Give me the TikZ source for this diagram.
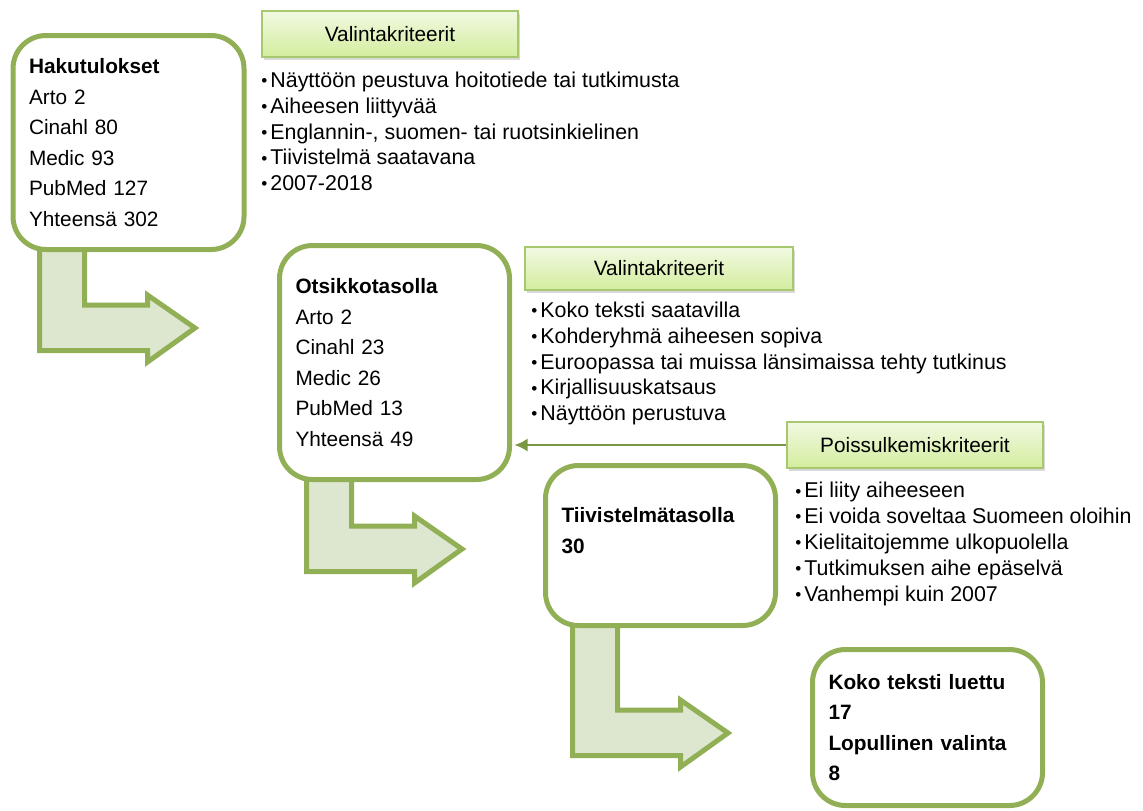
\documentclass[tikz,border=0pt]{standalone}
\usepackage{fontspec}
\setmainfont{Liberation Sans}
\usetikzlibrary{arrows.meta,shadows,positioning}

\definecolor{boxgreen}{RGB}{145,175,85}
\definecolor{arrowfill}{RGB}{221,231,208}
\definecolor{hdtop}{RGB}{241,249,226}
\definecolor{hdbot}{RGB}{211,237,158}
\definecolor{hdline}{RGB}{168,200,112}
\definecolor{connline}{RGB}{122,152,66}

\newcommand{\itm}[1]{\makebox[4.5pt][l]{\raisebox{0.4pt}{\fontsize{8.6}{8.6}\selectfont•}}#1}

\tikzset{
  every node/.style={font=\fontsize{10.4}{15.25}\selectfont},
  stage/.style={draw=boxgreen, line width=2.5pt, fill=white, rounded corners=16.5pt,
    minimum width=115pt, text width=99pt, align=left, inner sep=0pt},
  crit/.style={draw=hdline, line width=0.8pt, top color=hdtop, bottom color=hdbot, inner sep=0pt,
    drop shadow={shadow xshift=1pt, shadow yshift=-1.5pt, opacity=0.3}},
  critlist/.style={anchor=west, align=left, inner sep=0pt, font=\fontsize{10.7}{12.9}\selectfont},
  bentarrow/.pic={
    \draw[draw=boxgreen, fill=arrowfill, line width=2.5pt, line join=miter]
      (0,-100) -- (0,45.5) -- (108,45.5) -- (108,57) -- (155.5,23)
      -- (108,-10) -- (108,0) -- (45,0) -- (45,-100) -- cycle;
  }
}

\begin{document}
\begin{tikzpicture}[x=0.5pt, y=-0.5pt, >={Latex[length=6.5pt,width=6.5pt]}]
  \useasboundingbox (0,0) rectangle (1143,810);

  % bent arrows between the stages
  \pic at (39.5,305)  {bentarrow};
  \pic at (306.5,526) {bentarrow};
  \pic at (572.5,710) {bentarrow};

  \node[stage, minimum width=115.5pt, text width=99.5pt, minimum height=107pt] (haku) at (128.5,142.5)
    {\textbf{Hakutulokset}\\Arto 2\\Cinahl 80\\Medic 93\\PubMed 127\\Yhteensä 302};
  \node[stage, minimum height=117pt] (otsikko) at (394.5,362.5)
    {\textbf{Otsikkotasolla}\\Arto 2\\Cinahl 23\\Medic 26\\PubMed 13\\Yhteensä 49};
  \node[stage, minimum height=80pt] (tiiv) at (660.5,545.5)
    {\bfseries Tiivistelmätasolla\\30\\\mbox{}};
  \node[stage, minimum height=78pt] (koko) at (927.5,727.5)
    {\bfseries Koko teksti luettu\\17\\Lopullinen valinta\\8};

  \node[crit, minimum width=128pt, minimum height=23pt]   (val1) at (390,34)    {Valintakriteerit};
  \node[crit, minimum width=134pt, minimum height=21.5pt] (val2) at (659,268.5) {Valintakriteerit};
  \node[crit, minimum width=128pt, minimum height=23pt]   (pois) at (915,445)   {Poissulkemiskriteerit};

  \node[critlist] (list1) at (261,131.5)
    {\itm{Näyttöön peustuva hoitotiede tai tutkimusta}\\\itm{Aiheesen liittyvää}\\
     \itm{Englannin-, suomen- tai ruotsinkielinen}\\\itm{Tiivistelmä saatavana}\\\itm{2007-2018}};
  \node[critlist] (list2) at (531,363.5)
    {\itm{Koko teksti saatavilla}\\\itm{Kohderyhmä aiheesen sopiva}\\
     \itm{Euroopassa tai muissa länsimaissa tehty tutkinus}\\\itm{Kirjallisuuskatsaus}\\\itm{Näyttöön perustuva}};
  \node[critlist] (list3) at (795,544)
    {\itm{Ei liity aiheeseen}\\\itm{Ei voida soveltaa Suomeen oloihin}\\
     \itm{Kielitaitojemme ulkopuolella}\\\itm{Tutkimuksen aihe epäselvä}\\\itm{Vanhempi kuin 2007}};

  \draw[->, draw=connline, fill=connline, line width=1pt, shorten >=1.25pt]
    (pois.west) -- (pois.west -| otsikko.east);
\end{tikzpicture}
\end{document}
